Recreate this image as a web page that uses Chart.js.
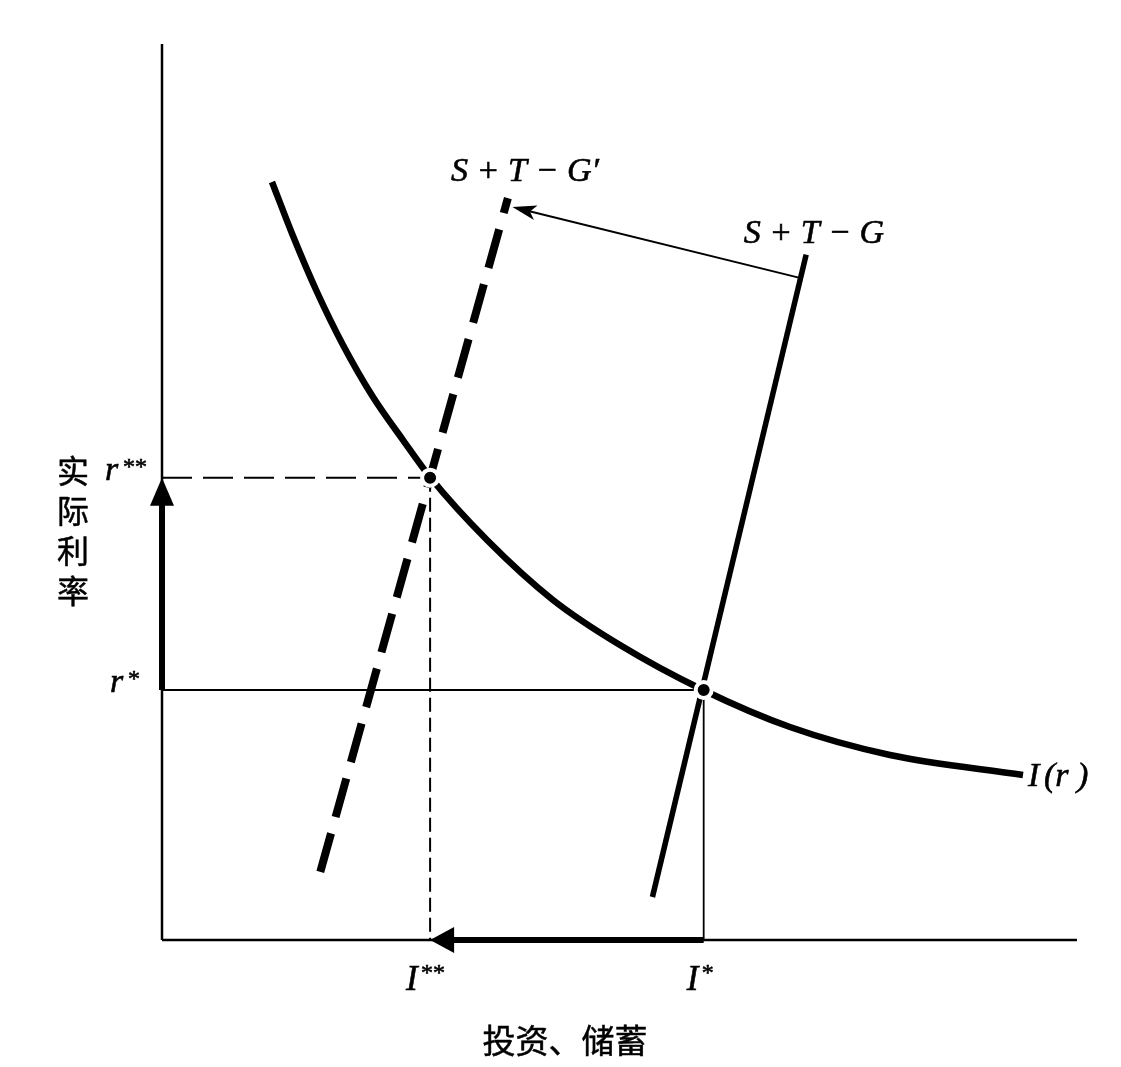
<!DOCTYPE html>
<html lang="zh-CN">
<head>
<meta charset="utf-8">
<title>投资、储蓄与实际利率</title>
<script src="https://cdn.jsdelivr.net/npm/chart.js@4/dist/chart.umd.min.js"></script>
<style>
  html, body { margin: 0; padding: 0; background: #fff; }
  #wrap { width: 1121px; height: 1067px; }
</style>
</head>
<body>
<div id="wrap"><canvas id="grafico" width="1121" height="1067"></canvas></div>
<script>
// Curva de investimento I(r): investimento (x) e juro real (y)
const invX = [1.202, 1.432, 1.694, 1.978, 2.306, 2.634, 2.929, 3.552, 4.273, 5.005, 5.913, 6.863, 7.956, 9.410];
const invY = [8.460, 7.857, 7.232, 6.641, 6.060, 5.580, 5.167, 4.464, 3.795, 3.292, 2.790, 2.377, 2.065, 1.842];

// Poupança nacional S + T - G (antes) e S + T - G' (depois)
const poupX = [5.36, 7.04];
const poupY = [0.48, 7.65];
const poupNovaX = [1.73, 3.78];
const poupNovaY = [0.76, 8.28];

// Seta do deslocamento da curva de poupança
const deslocX = [6.97, 3.83];
const deslocY = [7.39, 8.18];

// Equilíbrios: r*, I* e r**, I**
const rEq = [2.79, 5.16];
const iEq = [5.92, 2.93];

// Limites dos eixos
const eixoMax = 10;

const rotulosEq = { r: ['r', 'r'], estrelas: ['*', '**'] };

const SERIF = '"Liberation Serif", "Times New Roman", serif';
const CJK = '"Noto Sans CJK SC", "Noto Sans", sans-serif';

function pontos(xs, ys) {
  return xs.map((x, i) => ({ x: x, y: ys[i] }));
}

function linha(dados, largura, extra) {
  return Object.assign({
    data: dados,
    showLine: true,
    borderColor: '#000',
    backgroundColor: '#000',
    borderWidth: largura,
    pointRadius: 0,
    pointHoverRadius: 0,
    tension: 0,
    clip: false,
    borderCapStyle: 'butt'
  }, extra || {});
}

// Plugin para desenhar as pontas das setas
const pontasSetas = new Map();
const pluginSetas = {
  id: 'setas',
  afterDatasetsUpdate(chart) {
    pontasSetas.clear();
    chart.data.datasets.forEach((ds, i) => {
      if (!ds.seta) return;
      const pts = chart.getDatasetMeta(i).data;
      const fim = pts[pts.length - 1];
      const ant = pts[pts.length - 2];
      const dx = fim.x - ant.x, dy = fim.y - ant.y;
      const len = Math.hypot(dx, dy);
      const ux = dx / len, uy = dy / len;
      pontasSetas.set(i, { x: fim.x, y: fim.y, ux: ux, uy: uy, seta: ds.seta });
      // recua o fim da linha para ficar por baixo da ponta
      const recuo = ds.seta.comp * 0.6;
      fim.x -= ux * recuo;
      fim.y -= uy * recuo;
    });
  },
  afterDatasetsDraw(chart) {
    const ctx = chart.ctx;
    pontasSetas.forEach(p => {
      const bx = p.x - p.ux * p.seta.comp;
      const by = p.y - p.uy * p.seta.comp;
      const nx = -p.uy, ny = p.ux;
      const h = p.seta.larg / 2;
      const rx = p.x - p.ux * p.seta.comp * (1 - p.seta.recorte);
      const ry = p.y - p.uy * p.seta.comp * (1 - p.seta.recorte);
      ctx.save();
      ctx.fillStyle = '#000';
      ctx.beginPath();
      ctx.moveTo(p.x, p.y);
      ctx.lineTo(bx + nx * h, by + ny * h);
      ctx.lineTo(rx, ry);
      ctx.lineTo(bx - nx * h, by - ny * h);
      ctx.closePath();
      ctx.fill();
      ctx.restore();
    });
  }
};

// escreve texto com um contorno leve, como no original impresso
function escrever(ctx, texto, x, y) {
  ctx.fillText(texto, x, y);
  ctx.strokeText(texto, x, y);
}

// Plugin para os textos do gráfico
const pluginTextos = {
  id: 'textos',
  afterDraw(chart) {
    const ctx = chart.ctx;
    const sx = chart.scales.x, sy = chart.scales.y;
    ctx.save();
    ctx.fillStyle = '#000';
    ctx.strokeStyle = '#000';
    ctx.lineWidth = 0.6;
    ctx.textBaseline = 'alphabetic';

    // rótulos das curvas de poupança
    ctx.font = 'italic 34px ' + SERIF;
    ctx.textAlign = 'center';
    escrever(ctx, 'S + T \u2212 G\u2032', 525, 181);
    escrever(ctx, 'S + T \u2212 G', 814, 243);

    // I(r)
    ctx.textAlign = 'left';
    escrever(ctx, 'I', 1028, 786);
    escrever(ctx, '(r )', 1044, 786);

    // r* e r**
    const x0 = sx.getPixelForValue(0);
    rEq.forEach((r, k) => {
      const py = sy.getPixelForValue(r);
      ctx.font = 'italic 34px ' + SERIF;
      ctx.textAlign = 'left';
      const xr = k === 0 ? x0 - 52 : x0 - 57;
      escrever(ctx, rotulosEq.r[k], xr, py + 2);
      ctx.font = '24px ' + SERIF;
      escrever(ctx, rotulosEq.estrelas[k], xr + 18, py - 4);
    });

    // I* e I**
    const y0 = sy.getPixelForValue(0);
    iEq.forEach((v, k) => {
      const px = sx.getPixelForValue(v);
      ctx.font = 'italic 35px ' + SERIF;
      ctx.textAlign = 'left';
      const xi = k === 0 ? px - 17 : px - 24;
      escrever(ctx, 'I', xi, y0 + 50);
      ctx.font = '24px ' + SERIF;
      escrever(ctx, rotulosEq.estrelas[k], xi + 15, y0 + 40);
    });

    // títulos dos eixos
    ctx.lineWidth = 0.5;
    ctx.font = '33px ' + CJK;
    ctx.textAlign = 'center';
    escrever(ctx, '投资、储蓄', 565, 1053);
    ctx.font = '32px ' + CJK;
    ['实', '际', '利', '率'].forEach((c, k) => {
      escrever(ctx, c, 73, 483 + k * 40);
    });
    ctx.restore();
  }
};

const datasets = [
  // pontos de equilíbrio (desenhados por cima)
  {
    data: pontos(iEq, rEq),
    pointRadius: 8,
    pointBackgroundColor: '#000',
    pointBorderColor: '#fff',
    pointBorderWidth: 4,
    pointHoverRadius: 8,
    clip: false
  },
  linha(pontos(deslocX, deslocY), 2, { seta: { comp: 24, larg: 15, recorte: 0.25 } }),
  linha(pontos(invX, invY), 6.5, { cubicInterpolationMode: 'monotone' }),
  linha(pontos(poupX, poupY), 5.5),
  linha(pontos(poupNovaX, poupNovaY), 8, { borderDash: [40, 17] }),
  // linhas tracejadas de r** e I**
  linha(pontos([0, iEq[1]], [rEq[1], rEq[1]]), 2, { borderDash: [30, 11] }),
  linha(pontos([iEq[1], iEq[1]], [rEq[1], 0]), 2, { borderDash: [14, 6] }),
  // linhas finas de r* e I*
  linha(pontos([0, iEq[0]], [rEq[0], rEq[0]]), 1.8),
  linha(pontos([iEq[0], iEq[0]], [rEq[0], 0]), 1.8),
  // setas grossas nos eixos
  linha(pontos([0, 0], [rEq[0], rEq[1]]), 6, { seta: { comp: 28, larg: 24, recorte: 0 } }),
  linha(pontos([iEq[0], iEq[1]], [0, 0]), 6, { seta: { comp: 24, larg: 26, recorte: 0 } }),
  // eixos
  linha(pontos([0, 0], [0, eixoMax]), 2.5),
  linha(pontos([0, eixoMax], [0, 0]), 2.5)
];

function criarGrafico() {
  new Chart(document.getElementById('grafico'), {
    type: 'scatter',
    data: { datasets: datasets },
    options: {
      responsive: false,
      animation: false,
      events: [],
      layout: { padding: { left: 162, top: 44, right: 44, bottom: 127 } },
      plugins: { legend: { display: false }, tooltip: { enabled: false } },
      scales: {
        x: { type: 'linear', min: 0, max: eixoMax, display: false },
        y: { type: 'linear', min: 0, max: eixoMax, display: false }
      }
    },
    plugins: [pluginSetas, pluginTextos]
  });
}

// espera as fontes locais antes de desenhar
Promise.all([
  document.fonts.load('italic 34px "Liberation Serif"', 'SrTGI'),
  document.fonts.load('24px "Liberation Serif"', '*'),
  document.fonts.load('33px "Noto Sans CJK SC"', '投资、储蓄实际利率')
]).catch(() => null).then(criarGrafico);
</script>
</body>
</html>
